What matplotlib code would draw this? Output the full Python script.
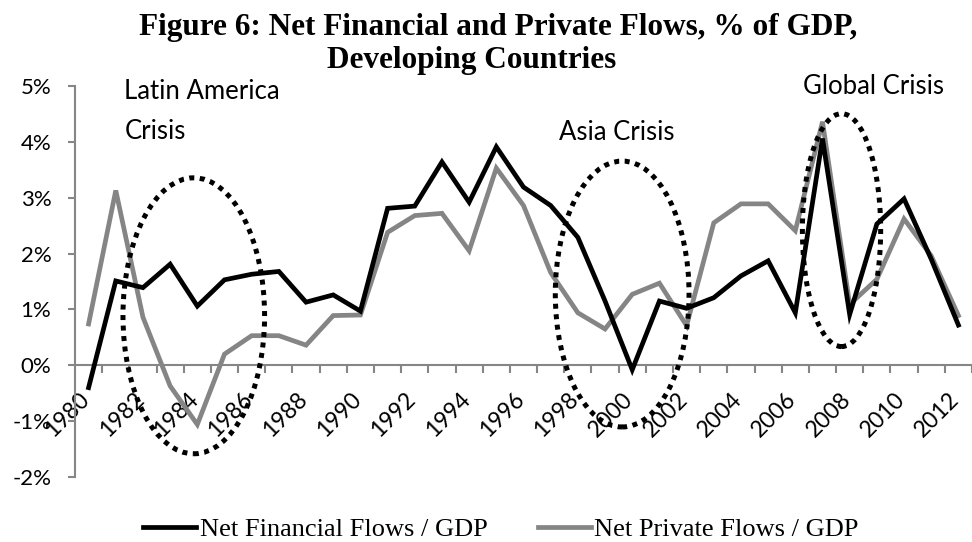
import matplotlib
matplotlib.use("Agg")
from matplotlib import pyplot as plt
from matplotlib.patches import Ellipse
import matplotlib.transforms as mtransforms

plt.rcParams['font.family'] = ['Lato', 'DejaVu Sans']

YEARS = list(range(1980, 2013))

# % of GDP
NET_FINANCIAL = [-0.40, 1.51, 1.39, 1.81, 1.06, 1.53, 1.63, 1.68, 1.13, 1.26,
                 0.97, 2.81, 2.85, 3.64, 2.92, 3.91, 3.19, 2.86, 2.29, 1.15,
                 -0.08, 1.15, 1.02, 1.21, 1.60, 1.87, 0.94, 4.06, 0.91, 2.53,
                 2.98, 1.90, 0.72]
NET_PRIVATE = [0.74, 3.13, 0.86, -0.37, -1.06, 0.20, 0.53, 0.53, 0.36, 0.89,
               0.90, 2.38, 2.68, 2.72, 2.05, 3.53, 2.86, 1.66, 0.94, 0.65,
               1.27, 1.47, 0.71, 2.55, 2.89, 2.89, 2.41, 4.36, 1.09, 1.54,
               2.62, 1.96, 0.89]

Y_TICKS = [-2, -1, 0, 1, 2, 3, 4, 5]

BLACK = '#000000'
GREY = '#858585'
AXIS_GREY = '#868686'

fig = plt.figure(figsize=(9.72, 5.42), dpi=100)
ax = fig.add_axes([75 / 972, 65 / 542, 897 / 972, 391 / 542])

x = list(range(len(YEARS)))
ax.plot(x, NET_FINANCIAL, color=BLACK, linewidth=3.4, solid_joinstyle='miter',
        label='Net Financial Flows / GDP', zorder=3)
ax.plot(x, NET_PRIVATE, color=GREY, linewidth=3.4, solid_joinstyle='miter',
        label='Net Private Flows / GDP', zorder=2)

# crisis periods, circled
for cx, cy, w, h in [(3.87, 0.886, 5.21, 4.94),
                     (19.63, 1.276, 4.92, 4.76),
                     (27.70, 2.42, 2.88, 4.17)]:
    ax.add_patch(Ellipse((cx, cy), w, h, fill=False, edgecolor=BLACK,
                         linewidth=3.6, linestyle=(0, (1, 1.1)), capstyle='butt',
                         zorder=4))

ax.text(1.32, 4.76, 'Latin America', fontsize=18.5, va='baseline', ha='left')
ax.text(1.32, 4.05, 'Crisis', fontsize=18.5, va='baseline', ha='left')
ax.text(17.3, 4.03, 'Asia Crisis', fontsize=18.5, va='baseline', ha='left')
ax.text(26.3, 4.86, 'Global Crisis', fontsize=18.5, va='baseline', ha='left')

ax.set_xlim(-0.5, 32.19)
ax.set_ylim(-2, 5)

for side in ['top', 'right']:
    ax.spines[side].set_visible(False)
ax.spines['left'].set_color(AXIS_GREY)
ax.spines['left'].set_linewidth(1.5)
ax.spines['bottom'].set_color(AXIS_GREY)
ax.spines['bottom'].set_linewidth(1.5)
ax.spines['bottom'].set_position(('data', 0))

ax.set_yticks(Y_TICKS)
ax.set_yticklabels([f"{v}%" for v in Y_TICKS])
ax.tick_params(axis='y', direction='out', length=5, width=1.5, color=AXIS_GREY,
               pad=12, labelsize=16)

ax.set_xticks(x[::2])
ax.set_xticklabels([str(y) for y in YEARS[::2]], rotation=45, ha='right', va='top')
ax.set_xticks([i + 0.5 for i in x], minor=True)
ax.tick_params(axis='x', which='major', length=0, pad=17, labelsize=16.5)
ax.tick_params(axis='x', which='minor', direction='out', length=6, width=1.5,
               color=AXIS_GREY)
shift = mtransforms.ScaledTranslation(3.6 / 72, 0, fig.dpi_scale_trans)
for lbl in ax.get_xticklabels():
    lbl.set_transform(lbl.get_transform() + shift)

fig.text(498 / 972, 1 - 35 / 542, 'Figure 6: Net Financial and Private Flows, % of GDP,',
         family='Liberation Serif', fontweight='bold', fontsize=22.5,
         ha='center', va='baseline')
fig.text(472 / 972, 1 - 68 / 542, 'Developing Countries',
         family='Liberation Serif', fontweight='bold', fontsize=22.5,
         ha='center', va='baseline')

fig.legend(loc='center', bbox_to_anchor=(501 / 972, 1 - 529 / 542), ncol=2,
           frameon=False, prop={'family': 'Liberation Serif', 'size': 19},
           handlelength=2.0, handletextpad=0.15, columnspacing=1.9,
           borderaxespad=0, borderpad=0)

fig.savefig('out.png', dpi=100)
